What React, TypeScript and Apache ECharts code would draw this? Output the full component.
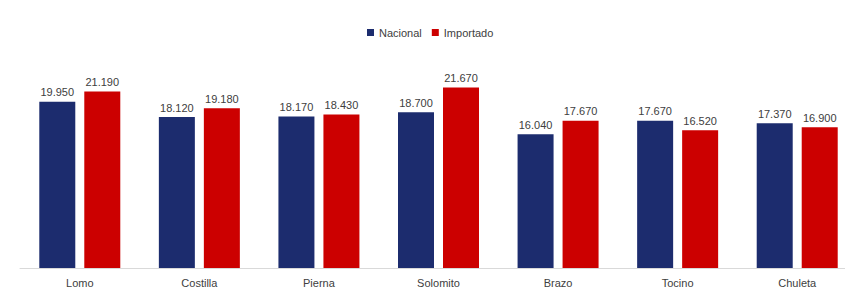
import React, { useEffect, useRef } from "react";
import * as echarts from "echarts";

const categories = ["Lomo", "Costilla", "Pierna", "Solomito", "Brazo", "Tocino", "Chuleta"];
const nacional = [19950, 18120, 18170, 18700, 16040, 17670, 17370];
const importado = [21190, 19180, 18430, 21670, 17670, 16520, 16900];

const fmt = (v: number) => {
  const s = Math.round(v).toString();
  return s.replace(/\B(?=(\d{3})+(?!\d))/g, ".");
};

export default function App() {
  const ref = useRef<HTMLDivElement>(null);
  useEffect(() => {
    document.body.style.margin = "0";
    document.body.style.overflow = "hidden";
    const chart = echarts.init(ref.current!, null, { renderer: "svg" });
    const labelStyle = {
      show: true,
      position: "top" as const,
      distance: 4,
      color: "#404040",
      fontSize: 11,
      fontFamily: "Liberation Sans, Arial, sans-serif",
      formatter: (p: any) => fmt(p.value),
    };
    chart.setOption({
      animation: false,
      backgroundColor: "#ffffff",
      legend: {
        top: 22,
        left: 362,
        itemWidth: 7,
        itemHeight: 7,
        itemGap: 10,
        icon: "rect",
        textStyle: { color: "#404040", fontSize: 11, fontFamily: "Liberation Sans, Arial, sans-serif" },
        data: ["Nacional", "Importado"],
      },
      grid: { left: 20, width: 837, top: 18, bottom: 29, containLabel: false, outerBoundsMode: "none" },
      xAxis: {
        type: "category",
        data: categories,
        axisLine: { show: true, lineStyle: { color: "#d9d9d9", width: 1 } },
        axisTick: { show: false },
        axisLabel: { color: "#404040", fontSize: 11, margin: 9, fontFamily: "Liberation Sans, Arial, sans-serif" },
      },
      yAxis: {
        type: "value",
        min: 0,
        max: 30000,
        show: false,
        splitLine: { show: false },
      },
      series: [
        {
          name: "Nacional",
          type: "bar",
          data: nacional,
          barWidth: 36,
          barGap: "25%",
          itemStyle: { color: "#1c2c6e" },
          label: labelStyle,
        },
        {
          name: "Importado",
          type: "bar",
          data: importado,
          barWidth: 36,
          itemStyle: { color: "#cc0000" },
          label: labelStyle,
        },
      ],
    });
    return () => chart.dispose();
  }, []);
  return (
    <div style={{ width: 845, height: 297, overflow: "hidden" }}>
      <div ref={ref} style={{ width: 880, height: 297 }} />
    </div>
  );
}
